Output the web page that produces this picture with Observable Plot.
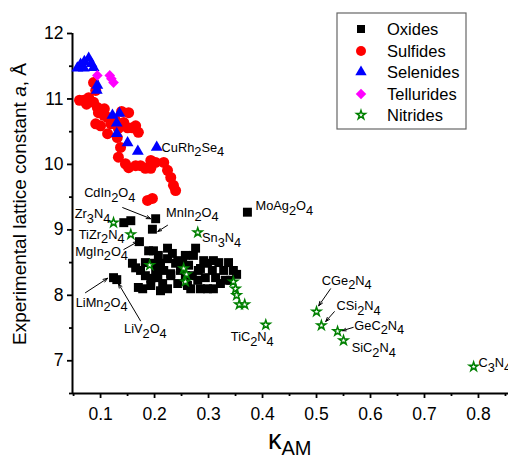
<!DOCTYPE html>
<html>
<head>
<meta charset="utf-8">
<script src="https://cdn.jsdelivr.net/npm/d3@7"></script>
<script src="https://cdn.jsdelivr.net/npm/@observablehq/plot@0.6"></script>
<style>
  html, body { margin: 0; padding: 0; background: #fff; }
  #chart { width: 508px; height: 460px; overflow: hidden; }
  svg { font-family: "Liberation Sans", Arial, sans-serif; }
</style>
</head>
<body>
<div id="chart"></div>
<script>
// ---- data (kappa_AM, lattice constant a in Å) ----
const oxides = [
  [0.143, 9.11], [0.156, 9.14], [0.202, 9.17], [0.196, 9.01], [0.172, 8.82], [0.372, 9.27],
  [0.124, 8.27], [0.130, 8.24],
  [0.159, 8.49], [0.165, 8.42], [0.174, 8.38], [0.183, 8.30], [0.193, 8.26], [0.170, 8.12],
  [0.178, 8.10], [0.189, 8.68], [0.198, 8.68], [0.207, 8.61], [0.224, 8.72], [0.224, 8.56],
  [0.211, 8.49], [0.198, 8.49], [0.217, 8.38], [0.230, 8.33], [0.206, 8.27], [0.224, 8.10],
  [0.243, 8.18], [0.248, 8.38], [0.239, 8.49], [0.276, 8.72], [0.272, 8.61], [0.261, 8.15],
  [0.267, 8.10], [0.280, 8.23], [0.285, 8.10], [0.298, 8.10], [0.291, 8.53], [0.298, 8.49],
  [0.309, 8.53], [0.307, 8.38], [0.313, 8.27], [0.328, 8.38], [0.337, 8.50], [0.346, 8.38],
  [0.331, 8.23], [0.309, 8.10], [0.322, 8.18], [0.243, 8.53], [0.252, 8.50], [0.230, 8.30],
  [0.257, 8.30], [0.270, 8.30], [0.233, 8.64], [0.257, 8.61], [0.215, 8.18], [0.193, 8.15],
  [0.263, 8.46], [0.281, 8.38], [0.341, 8.23], [0.352, 8.32], [0.202, 8.38], [0.183, 8.50],
  [0.294, 8.27], [0.319, 8.50], [0.211, 8.07], [0.285, 8.41]
];
const sulfides = [
  [0.087, 11.25], [0.091, 11.13], [0.061, 10.98], [0.069, 10.98], [0.078, 11.02], [0.087, 10.95],
  [0.094, 10.87], [0.096, 10.79], [0.106, 10.75], [0.113, 10.72], [0.091, 10.62], [0.100, 10.59],
  [0.113, 10.47], [0.119, 10.62], [0.143, 10.64], [0.152, 10.79], [0.150, 10.56], [0.159, 10.56],
  [0.170, 10.49], [0.131, 10.41], [0.137, 10.26], [0.133, 10.11], [0.146, 10.01], [0.152, 9.95],
  [0.165, 9.98], [0.174, 9.98], [0.193, 9.94], [0.217, 10.03], [0.224, 9.91], [0.230, 9.80],
  [0.235, 9.68], [0.239, 9.60], [0.187, 9.45], [0.196, 9.48], [0.074, 10.92], [0.128, 10.67],
  [0.107, 10.85], [0.139, 10.81], [0.165, 10.59], [0.183, 9.94], [0.202, 10.03], [0.133, 10.55],
  [0.193, 10.06]
];
const selenides = [
  [0.057, 11.47], [0.063, 11.53], [0.070, 11.57], [0.078, 11.62], [0.083, 11.54], [0.087, 11.48],
  [0.069, 11.47], [0.094, 11.21], [0.093, 11.13], [0.122, 10.75], [0.135, 10.78], [0.130, 10.63],
  [0.130, 10.47], [0.150, 10.33], [0.169, 10.20], [0.204, 10.26]
];
const tellurides = [
  [0.094, 11.36], [0.117, 11.36], [0.124, 11.25], [0.120, 11.31]
];
const nitrides = [
  [0.124, 9.11], [0.156, 8.93], [0.280, 8.96], [0.191, 8.46], [0.254, 8.41], [0.259, 8.32],
  [0.257, 8.21], [0.346, 8.21], [0.350, 8.10], [0.352, 8.00], [0.357, 7.86], [0.367, 7.86],
  [0.406, 7.55], [0.500, 7.75], [0.509, 7.54], [0.539, 7.45], [0.550, 7.31], [0.791, 6.91]
];
// compound labels: text, label position (data units)
const labelsMiddle = [
  ["CdIn2O4", 0.117, 9.56], ["MnIn2O4", 0.270, 9.265], ["Zr3N4", 0.085, 9.24],
  ["TiZr2N4", 0.102, 8.93], ["MgIn2O4", 0.102, 8.67], ["LiMn2O4", 0.102, 7.89],
  ["LiV2O4", 0.183, 7.49], ["TiC2N4", 0.381, 7.37], ["CGe2N4", 0.556, 8.226],
  ["CSi2N4", 0.578, 7.84], ["SiC2N4", 0.606, 7.19]
];
const labelsStart = [
  ["CuRh2Se4", 0.213, 10.26], ["Sn3N4", 0.288, 8.88], ["MoAg2O4", 0.387, 9.37],
  ["GeC2N4", 0.570, 7.54], ["C3N4", 0.800, 6.97]
];
// arrows: from (x1,y1) to (x2,y2)
const arrows = [
  [0.141, 9.34, 0.193, 9.17], [0.224, 9.07, 0.206, 8.975], [0.143, 8.70, 0.169, 8.82],
  [0.072, 8.04, 0.113, 8.26], [0.174, 7.61, 0.133, 8.18], [0.526, 8.10, 0.504, 7.84],
  [0.533, 7.75, 0.517, 7.60], [0.568, 7.51, 0.548, 7.46]
];
const xMajor = [0.1, 0.2, 0.3, 0.4, 0.5, 0.6, 0.7, 0.8];
const xMinor = [0.05, 0.15, 0.25, 0.35, 0.45, 0.55, 0.65, 0.75, 0.85];
const yMajor = [7, 8, 9, 10, 11, 12];
const yMinor = [6.5, 7.5, 8.5, 9.5, 10.5, 11.5];
const seriesNames = ["Oxides", "Sulfides", "Selenides", "Tellurides", "Nitrides"];

const X0 = 0.048, X1 = 0.8556, Y0 = 6.5, Y1 = 12;
const px = d => d[0], py = d => d[1];

const chart = Plot.plot({
  width: 508, height: 460,
  marginLeft: 72, marginRight: 0, marginTop: 33, marginBottom: 67,
  x: {domain: [X0, X1]},
  y: {domain: [Y0, Y1]},
  style: {fontFamily: "Liberation Sans, Arial, sans-serif", background: "white", color: "black"},
  marks: [
    Plot.axisX(xMajor, {tickSize: 5, tickPadding: 9, strokeWidth: 1.8, fontSize: 17.5, tickFormat: d => d.toFixed(1), label: null}),
    Plot.axisX(xMinor.filter(v => v <= X1), {tickSize: 3, strokeWidth: 1.8, tickFormat: () => "", label: null}),
    Plot.axisY(yMajor, {tickSize: 5, tickPadding: 4, strokeWidth: 1.8, fontSize: 17.5, tickFormat: d => String(d), label: null}),
    Plot.axisY(yMinor, {tickSize: 3, strokeWidth: 1.8, tickFormat: () => "", label: null}),
    Plot.ruleX([X0], {strokeWidth: 2}),
    Plot.ruleY([Y0], {strokeWidth: 2}),
    Plot.arrow(arrows, {x1: d => d[0], y1: d => d[1], x2: d => d[2], y2: d => d[3], stroke: "black", strokeWidth: 1, headLength: 7, headAngle: 40}),
    Plot.dot(oxides, {x: px, y: py, symbol: "square", r: 5.05, fill: "black"}),
    Plot.dot(sulfides, {x: px, y: py, symbol: "circle", r: 5.5, fill: "#ff0000"}),
    Plot.dot(selenides, {x: px, y: py, symbol: "triangle", r: 4.4, fill: "#0000ff"}),
    Plot.dot(tellurides, {x: px, y: py, symbol: "diamond2", r: 4.8, fill: "#ff00ff"}),
    Plot.dot(nitrides, {x: px, y: py, symbol: "star", r: 2.8, fill: "white", stroke: "#008000", strokeWidth: 1.5}),
    Plot.text(labelsMiddle, {x: d => d[1], y: d => d[2], text: d => d[0], fontSize: 12.8, fill: "black", textAnchor: "middle"}),
    Plot.text(labelsStart, {x: d => d[1], y: d => d[2], text: d => d[0], fontSize: 12.8, fill: "black", textAnchor: "start"})
  ]
});

document.getElementById("chart").appendChild(chart);
const svg = d3.select(chart);

// subscripts in compound formulas
svg.selectAll('g[aria-label="text"] text').each(function () {
  const s = this.textContent;
  const runs = s.match(/\d+|\D+/g) || [];
  this.textContent = "";
  let sub = false;
  for (const r of runs) {
    const isDigit = /^\d/.test(r);
    const t = document.createElementNS("http://www.w3.org/2000/svg", "tspan");
    t.textContent = r;
    if (isDigit && !sub) { t.setAttribute("dy", "0.38em"); sub = true; }
    else if (!isDigit && sub) { t.setAttribute("dy", "-0.38em"); sub = false; }
    this.appendChild(t);
  }
});

// axis titles
const yt = svg.append("text")
  .attr("transform", "translate(26,204) rotate(-90)")
  .attr("text-anchor", "middle")
  .attr("font-size", 19)
  .attr("fill", "black");
yt.append("tspan").text("Experimental lattice constant ");
yt.append("tspan").attr("font-style", "italic").text("a");
yt.append("tspan").text(", Å");

const xt = svg.append("text")
  .attr("x", 268).attr("y", 449)
  .attr("text-anchor", "start")
  .attr("fill", "black");
xt.append("tspan").attr("font-size", 27).text("κ");
xt.append("tspan").attr("font-size", 20).attr("dy", 6).text("AM");

// legend
const lg = svg.append("g");
lg.append("rect").attr("x", 337).attr("y", 13).attr("width", 129).attr("height", 116)
  .attr("fill", "white").attr("stroke", "#666").attr("stroke-width", 1.2);
const legendStyles = [
  {sym: d3.symbolSquare, size: 64, fill: "black", stroke: "none"},
  {sym: d3.symbolCircle, size: 78, fill: "#ff0000", stroke: "none"},
  {sym: d3.symbolTriangle, size: 56, fill: "#0000ff", stroke: "none"},
  {sym: d3.symbolDiamond2, size: 70, fill: "#ff00ff", stroke: "none"},
  {sym: d3.symbolStar, size: 24, fill: "white", stroke: "#008000"}
];
const rowsY = [29, 51, 72, 94, 115];
seriesNames.forEach((name, i) => {
  const st = legendStyles[i];
  lg.append("path")
    .attr("d", d3.symbol(st.sym, st.size)())
    .attr("transform", `translate(361,${rowsY[i]})`)
    .attr("fill", st.fill).attr("stroke", st.stroke).attr("stroke-width", 1.5);
  lg.append("text").attr("x", 387).attr("y", rowsY[i]).attr("dy", "0.35em")
    .attr("text-anchor", "start")
    .attr("font-size", 16.5).attr("fill", "black").text(name);
});
</script>
</body>
</html>
